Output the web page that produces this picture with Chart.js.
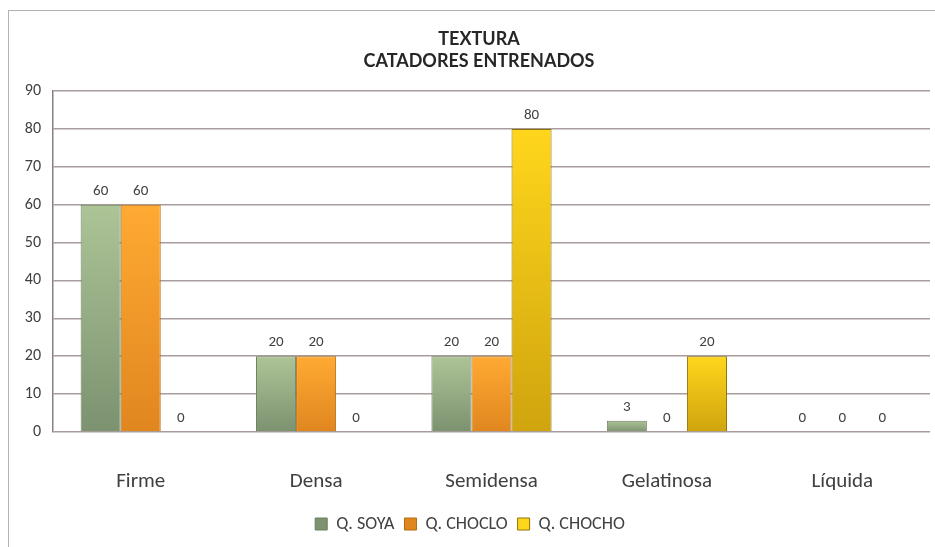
<!DOCTYPE html>
<html>
<head>
<meta charset="utf-8">
<script src="https://cdn.jsdelivr.net/npm/chart.js@4.4.0/dist/chart.umd.min.js"></script>
<style>
  html, body { margin: 0; padding: 0; background: #fff; }
  #wrap { position: relative; width: 935px; height: 547px; }
  #frame { position: absolute; left: 8px; top: 10px; width: 940px; height: 560px; border: 1px solid #b8b0b0; box-sizing: border-box; }
  canvas { position: absolute; left: 0; top: 0; }
</style>
</head>
<body>
<div id="wrap">
  <div id="frame"></div>
  <canvas id="texturaChart" width="935" height="547"></canvas>
</div>
<script>
const categories = ['Firme', 'Densa', 'Semidensa', 'Gelatinosa', 'Líquida'];
const soya = [60, 20, 20, 3, 0];
const choclo = [60, 20, 20, 0, 0];
const chocho = [0, 0, 80, 20, 0];
const yTicks = [0, 10, 20, 30, 40, 50, 60, 70, 80, 90];
const titleLines = ['TEXTURA', 'CATADORES ENTRENADOS'];

const font = "Carlito, 'Liberation Sans Narrow', Lato, sans-serif";

// vertical gradient for each bar, light at the top, darker at the base
function barGradient(light, dark) {
    return function (ctx) {
        const chart = ctx.chart;
        const y = chart.scales && chart.scales.y;
        if (!y || ctx.raw === undefined) return light;
        const top = y.getPixelForValue(ctx.raw);
        const bottom = y.getPixelForValue(0);
        if (!isFinite(top) || !isFinite(bottom) || bottom - top < 1) return light;
        const g = chart.ctx.createLinearGradient(0, top, 0, bottom);
        g.addColorStop(0, light);
        g.addColorStop(1, dark);
        return g;
    };
}

const valueLabels = {
    id: 'valueLabels',
    afterDatasetsDraw(chart) {
        const c = chart.ctx;
        c.save();
        c.font = '15px ' + font;
        c.fillStyle = '#404040';
        c.textAlign = 'center';
        c.textBaseline = 'bottom';
        chart.data.datasets.forEach((ds, i) => {
            chart.getDatasetMeta(i).data.forEach((bar, j) => {
                c.fillText(ds.data[j], bar.x, bar.y - 6);
            });
        });
        c.restore();
    }
};

const titleText = {
    id: 'titleText',
    afterDraw(chart) {
        const c = chart.ctx;
        c.save();
        c.font = "bold 18px 'Liberation Sans Narrow', Lato, sans-serif";
        c.fillStyle = '#262626';
        c.textAlign = 'center';
        c.textBaseline = 'middle';
        c.fillText(titleLines[0], 479, 39);
        c.fillText(titleLines[1], 479, 61);
        c.restore();
    }
};

new Chart(document.getElementById('texturaChart').getContext('2d'), {
    type: 'bar',
    data: {
        labels: categories,
        datasets: [{
            label: 'Q. SOYA',
            data: soya,
            backgroundColor: barGradient('#adc497', '#7c9270'),
            borderColor: '#6d7f5e',
            borderWidth: 1
        }, {
            label: 'Q. CHOCLO',
            data: choclo,
            backgroundColor: barGradient('#ffaa33', '#e0861f'),
            borderColor: '#b56a10',
            borderWidth: 1
        }, {
            label: 'Q. CHOCHO',
            data: chocho,
            backgroundColor: barGradient('#ffd61c', '#cfa40e'),
            borderColor: '#8f7205',
            borderWidth: 1
        }]
    },
    options: {
        responsive: false,
        animation: false,
        layout: { padding: { left: 10, right: 5, top: 91, bottom: 4 } },
        datasets: { bar: { categoryPercentage: 0.685, barPercentage: 1 } },
        scales: {
            x: {
                grid: { display: false },
                border: { display: false },
                ticks: { color: '#404040', font: { family: font, size: 21 }, padding: 29 },
                afterFit(scale) { scale.height = 73; }
            },
            y: {
                min: 0,
                max: 90,
                afterBuildTicks(scale) { scale.ticks = yTicks.map(v => ({ value: v })); },
                grid: { color: '#a89c9c', lineWidth: 1.5, drawTicks: false },
                border: { color: '#8a7f7f', width: 1.5 },
                ticks: { color: '#404040', font: { family: font, size: 16 }, padding: 12 },
                afterFit(scale) { scale.width = 43; }
            }
        },
        plugins: {
            title: { display: false },
            tooltip: { enabled: false },
            legend: {
                position: 'bottom',
                labels: {
                    color: '#404040',
                    font: { family: font, size: 18 },
                    boxWidth: 12,
                    boxHeight: 12,
                    padding: 10
                }
            }
        }
    },
    plugins: [valueLabels, titleText]
});
</script>
</body>
</html>
